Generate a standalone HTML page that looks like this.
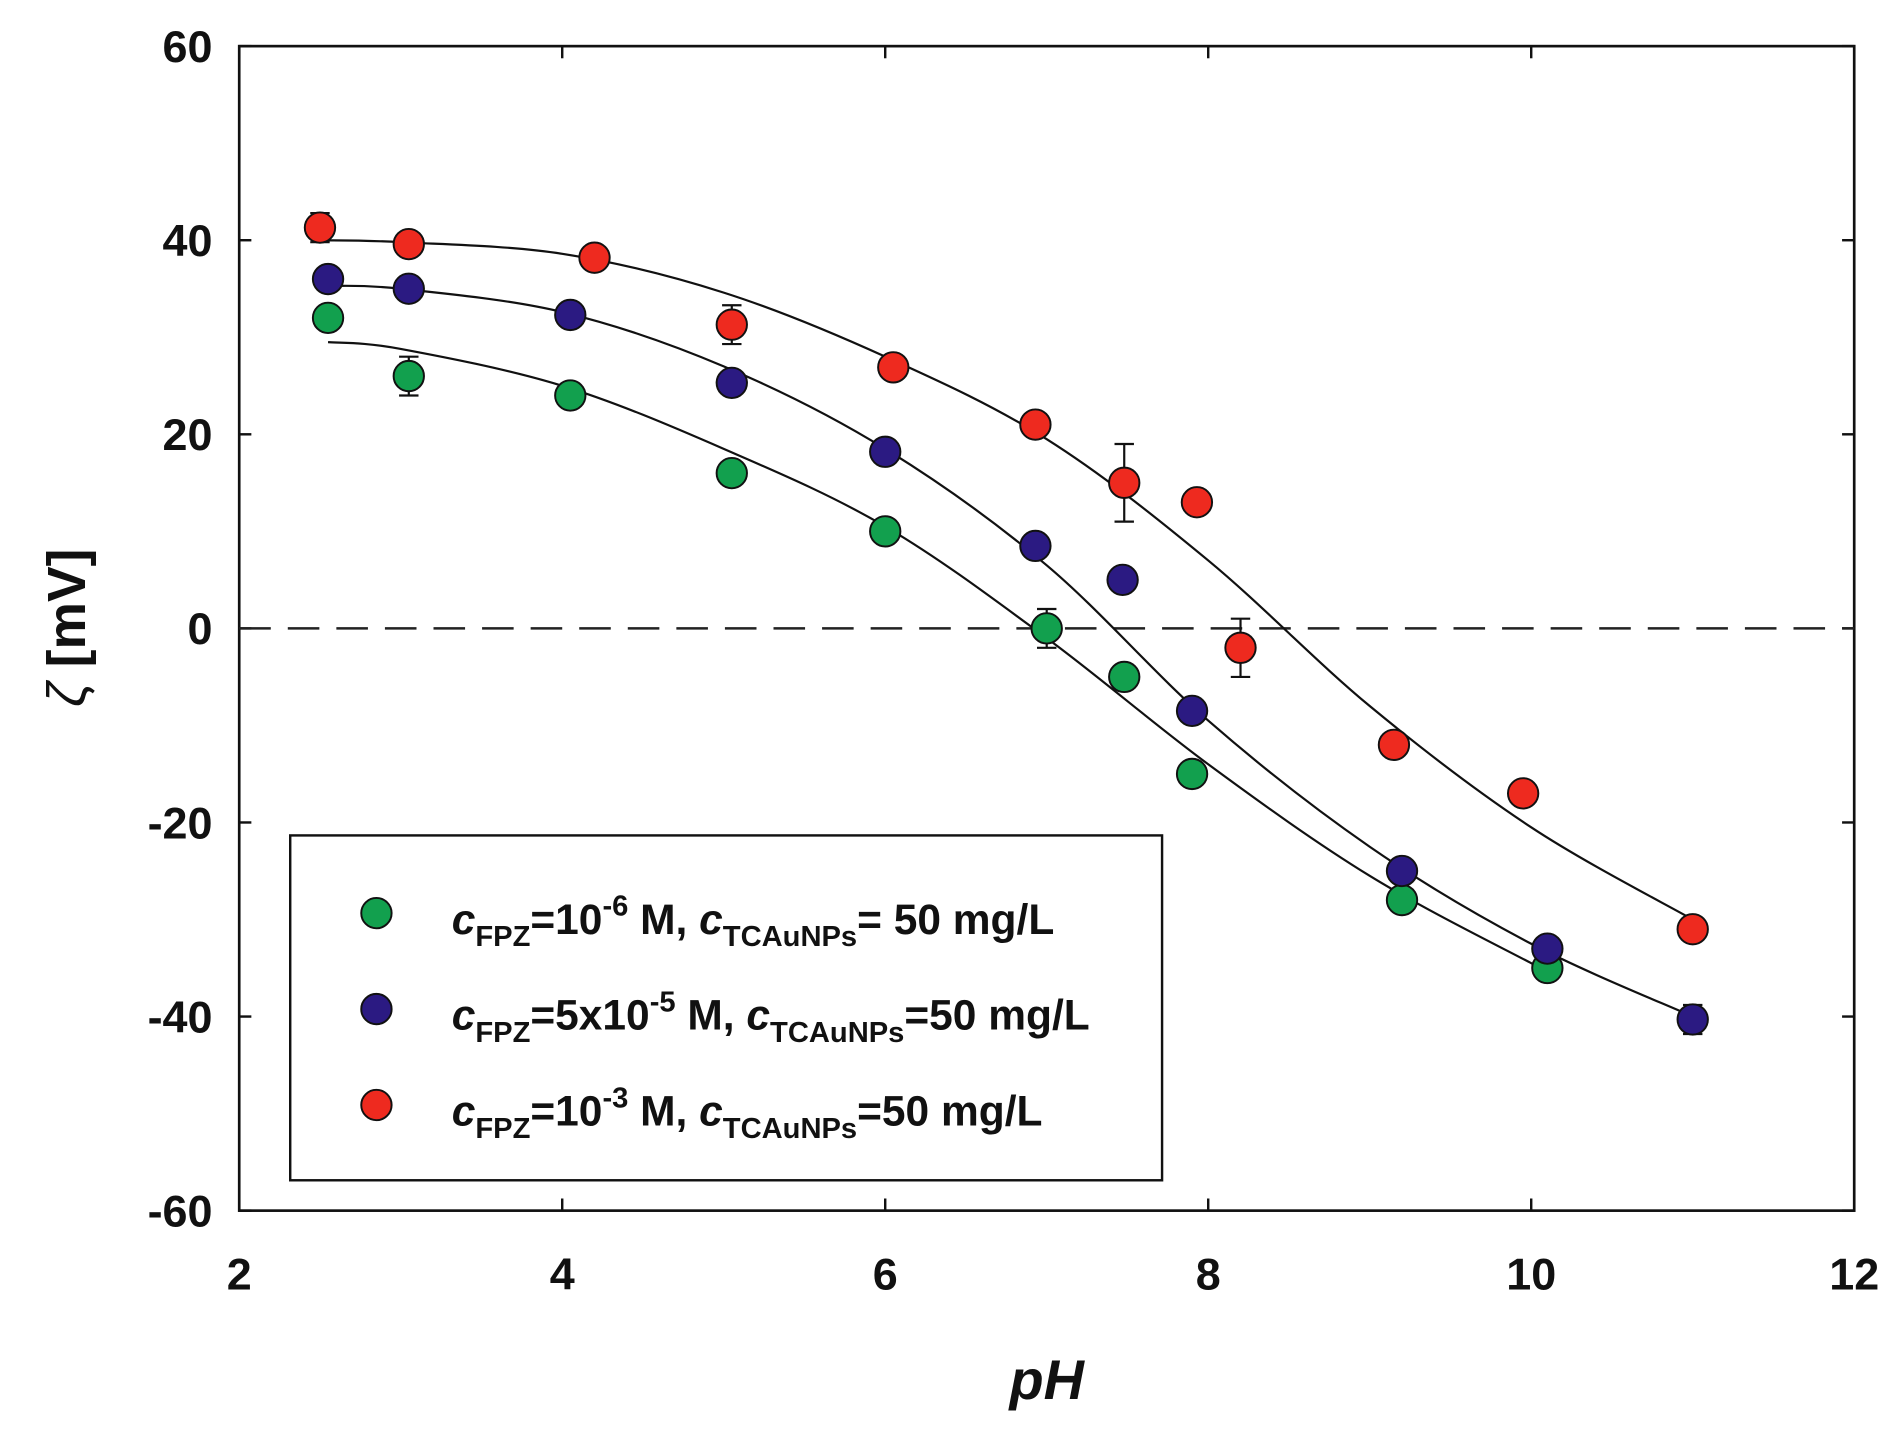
<!DOCTYPE html>
<html><head><meta charset="utf-8"><style>
html,body{margin:0;padding:0;background:#fff;}
svg{display:block;font-family:"Liberation Sans",Arial,sans-serif;}
</style></head><body>
<svg id="chart" width="1904" height="1432" viewBox="0 0 1568 1179.3" xmlns="http://www.w3.org/2000/svg">
<g id="axes"></g><g id="curves"></g><g id="points"></g><g id="legend"></g>
</svg>
<script>
const xTicks=[2,4,6,8,10,12];
const yTicks=[60,40,20,0,-20,-40,-60];
const greenX=[2.55,3.05,4.05,5.05,6.0,7.0,7.48,7.9,9.2,10.1];
const greenY=[32,26,24,16,10,0,-5,-15,-28,-35];
const greenErr=[1,2,1,1,1,2,1,1,1,1];
const blueX=[2.55,3.05,4.05,5.05,6.0,6.93,7.47,7.9,9.2,10.1,11.0];
const blueY=[36,35,32.3,25.3,18.2,8.5,5,-8.5,-25,-33,-40.3];
const blueErr=[1,1,1,1,1,1,1,1,1,1,1.5];
const redX=[2.5,3.05,4.2,5.05,6.05,6.93,7.48,7.93,8.2,9.15,9.95,11.0];
const redY=[41.3,39.6,38.2,31.3,26.9,21,15,13,-2,-12,-17,-31];
const redErr=[1.5,1,1.2,2,1,1.2,4,0.5,3,0.5,0.5,1];
const greenFitX=[2.55,3,4,5,6,7,8,9,10,10.1];
const greenFitY=[29.5,28.8,25,18.5,10.5,-1,-14,-25.5,-34.5,-35.2];
const blueFitX=[2.55,3,4,5,6,7,8,9,10,11];
const blueFitY=[35.3,35,32.6,27,18.5,6.5,-9.5,-22.5,-32.5,-40];
const redFitX=[2.5,3,4,5,6,7,8,9,10,11];
const redFitY=[40,39.8,38.6,34.6,28,19.5,7,-8,-20.5,-30];

const L=197,R=1527,T=38,B=997;
const sx=v=>L+(v-2)*(R-L)/10;
const sy=v=>T+(60-v)*(B-T)/120;
const NS='http://www.w3.org/2000/svg';
function mk(tag,attrs,parent){const e=document.createElementNS(NS,tag);for(const k in attrs)e.setAttribute(k,attrs[k]);parent.appendChild(e);return e;}
const axes=document.getElementById('axes');
const frame=mk('rect',{x:L,y:T,width:R-L,height:B-T,fill:'none',stroke:'#111','stroke-width':2.2},axes);


xTicks.forEach(v=>{
  const x=sx(v);
  mk('line',{x1:x,y1:B,x2:x,y2:B-10,stroke:'#111','stroke-width':2},axes);
  mk('line',{x1:x,y1:T,x2:x,y2:T+10,stroke:'#111','stroke-width':2},axes);
  const t=mk('text',{x:x,y:1062,'text-anchor':'middle','font-size':37,'font-weight':'bold',fill:'#111'},axes);
  t.textContent=v;
  
  
});
yTicks.forEach(v=>{
  const y=sy(v);
  mk('line',{x1:L,y1:y,x2:L+10,y2:y,stroke:'#111','stroke-width':2},axes);
  mk('line',{x1:R,y1:y,x2:R-10,y2:y,stroke:'#111','stroke-width':2},axes);
  const t=mk('text',{x:175,y:y+13,'text-anchor':'end','font-size':37,'font-weight':'bold',fill:'#111'},axes);
  t.textContent=v;
  
  
});
const zl=mk('line',{x1:L,y1:sy(0),x2:R,y2:sy(0),stroke:'#222','stroke-width':2,'stroke-dasharray':'26,14'},axes);


const xt=mk('text',{x:862,y:1152,'text-anchor':'middle','font-size':46,'font-weight':'bold','font-style':'italic',fill:'#111'},axes);
xt.textContent='pH';


const yt=mk('text',{x:0,y:0,'text-anchor':'middle','font-size':44,'font-weight':'bold',fill:'#111',transform:'translate(70,517) rotate(-90)'},axes);
yt.innerHTML='<tspan font-style="italic" font-weight="normal">ζ</tspan> [mV]';



function smoothPath(xs,ys){
  const p=xs.map((x,i)=>[sx(x),sy(ys[i])]);
  let d='M'+p[0][0]+','+p[0][1];
  for(let i=0;i<p.length-1;i++){
    const p0=p[i-1]||p[i],p1=p[i],p2=p[i+1],p3=p[i+2]||p2;
    const c1=[p1[0]+(p2[0]-p0[0])/6,p1[1]+(p2[1]-p0[1])/6];
    const c2=[p2[0]-(p3[0]-p1[0])/6,p2[1]-(p3[1]-p1[1])/6];
    d+=' C'+c1+' '+c2+' '+p2;
  }
  return d;
}
const curves=document.getElementById('curves');
[[greenFitX,greenFitY,'green-fit-curve'],[blueFitX,blueFitY,'blue-fit-curve'],[redFitX,redFitY,'red-fit-curve']].forEach(s=>{
  const c=mk('path',{d:smoothPath(s[0],s[1]),fill:'none',stroke:'#111','stroke-width':1.8},curves);
  
  
});
const pts=document.getElementById('points');
function series(xs,ys,es,color,name){
  xs.forEach((x,i)=>{
    const cx=sx(x),cy=sy(ys[i]),e=es[i]*(B-T)/120;
    mk('line',{x1:cx,y1:cy-e,x2:cx,y2:cy+e,stroke:'#111','stroke-width':1.8},pts);
    mk('line',{x1:cx-8,y1:cy-e,x2:cx+8,y2:cy-e,stroke:'#111','stroke-width':1.8},pts);
    mk('line',{x1:cx-8,y1:cy+e,x2:cx+8,y2:cy+e,stroke:'#111','stroke-width':1.8},pts);
    const c=mk('circle',{cx:cx,cy:cy,r:12.5,fill:color,stroke:'#111','stroke-width':1.6},pts);
    
    
  });
}
series(greenX,greenY,greenErr,'#12a04e','green-point');
series(blueX,blueY,blueErr,'#2b1a82','blue-point');
series(redX,redY,redErr,'#ee2a1f','red-point');

const lg=document.getElementById('legend');
const box=mk('rect',{x:239,y:688,width:718,height:284,fill:'#fff',stroke:'#111','stroke-width':2},lg);


const entries=[['#12a04e','10<tspan dy="-15" font-size="24">-6</tspan><tspan dy="15"> M, </tspan>','= 50 mg/L','legend-entry-green'],
 ['#2b1a82','5x10<tspan dy="-15" font-size="24">-5</tspan><tspan dy="15"> M, </tspan>','=50 mg/L','legend-entry-blue'],
 ['#ee2a1f','10<tspan dy="-15" font-size="24">-3</tspan><tspan dy="15"> M, </tspan>','=50 mg/L','legend-entry-red']];
entries.forEach((en,i)=>{
  const y=752+i*79;
  const g=mk('g',{},lg);
  
  
  mk('circle',{cx:310,cy:y,r:12.5,fill:en[0],stroke:'#111','stroke-width':1.6},g);
  const t=mk('text',{x:372,y:y+17,'font-size':35,'font-weight':'bold',fill:'#111'},g);
  t.innerHTML='<tspan font-style="italic">c</tspan><tspan dy="10" font-size="24">FPZ</tspan><tspan dy="-10">='+'</tspan>'+en[1]+'<tspan font-style="italic">c</tspan><tspan dy="10" font-size="24">TCAuNPs</tspan><tspan dy="-10">'+en[2]+'</tspan>';
});
</script>
</body></html>
